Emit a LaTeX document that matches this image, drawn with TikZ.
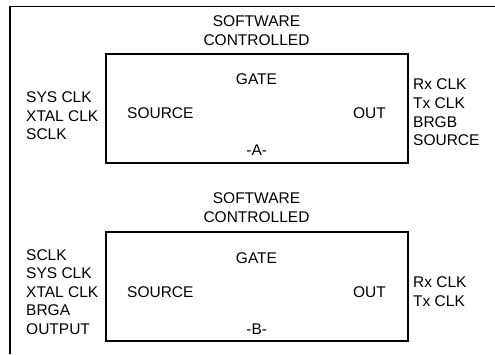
\documentclass[tikz,border=0pt]{standalone}
\usepackage{fontspec}
\setmainfont{Liberation Sans}
\begin{document}
\begin{tikzpicture}[x=1pt,y=-1pt,
  lbl/.style={inner sep=0pt,font=\fontsize{15.5}{18.6}\selectfont},
  lgrp/.style={lbl,align=left,anchor=west},
  cgrp/.style={lbl,align=center},
  blk/.style={draw,line width=1.1pt},
  frame/.style={draw,line width=1.4pt}]
\useasboundingbox (0,0) rectangle (495,354);
% outer frame (left and top edges)
\coordinate (fbl) at (10,354);
\coordinate (ftl) at (10,6.5);
\coordinate (ftr) at (495,6.5);
\draw[frame] (fbl) -- (ftl) -- (ftr);
% upper block A
\node[blk,minimum width=302pt,minimum height=109pt,inner sep=0pt] (boxA) at (257,108.5) {};
\node[cgrp] (swA) at (256.5,30.5) {SOFTWARE\\CONTROLLED};
\node[cgrp] (gateA) at (256.5,79.5) {GATE};
\node[lgrp] (srcA) at (127,113.5) {SOURCE};
\node[lbl,anchor=east] (outA) at (386,113.5) {OUT};
\node[cgrp] (labA) at (256.7,150) {-A-};
\node[lgrp] (inA) at (26,116) {SYS CLK\\XTAL CLK\\SCLK};
\node[lgrp] (oA) at (413,112.5) {Rx CLK\\Tx CLK\\BRGB\\SOURCE};
% lower block B
\node[blk,minimum width=302pt,minimum height=109pt,inner sep=0pt] (boxB) at (257,286.5) {};
\node[cgrp] (swB) at (256.5,207.5) {SOFTWARE\\CONTROLLED};
\node[cgrp] (gateB) at (256.5,258) {GATE};
\node[lgrp] (srcB) at (127,292) {SOURCE};
\node[lbl,anchor=east] (outB) at (386,292) {OUT};
\node[cgrp] (labB) at (256.7,329) {-B-};
\node[lgrp] (inB) at (26,292) {SCLK\\SYS CLK\\XTAL CLK\\BRGA\\OUTPUT};
\node[lgrp] (oB) at (413,291.5) {Rx CLK\\Tx CLK};
\end{tikzpicture}
\end{document}
